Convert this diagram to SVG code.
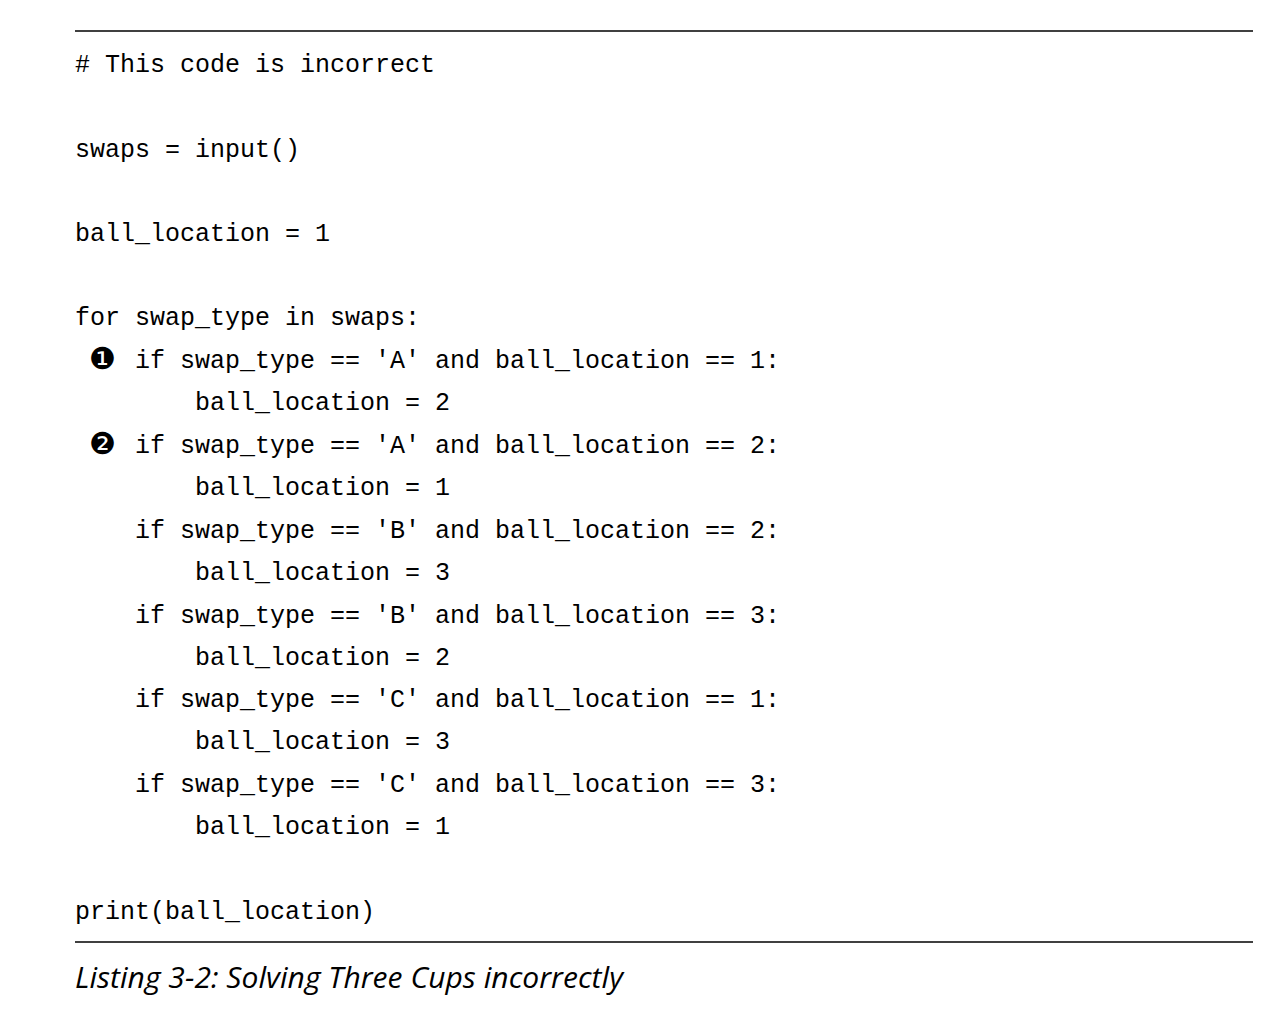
<svg xmlns="http://www.w3.org/2000/svg" width="1288" height="1020" viewBox="0 0 1288 1020">
<style>
.c{font-family:"Liberation Mono","DejaVu Sans Mono",monospace;font-size:25px;fill:#000}
.b{font-family:"DejaVu Sans",sans-serif;font-size:30px;fill:#000}
.cap{font-family:"Open Sans","Liberation Sans",sans-serif;font-style:italic;font-size:30px;fill:#000}
</style>
<rect width="1288" height="1020" fill="#fff"/>
<line x1="75" y1="31" x2="1253" y2="31" stroke="#000" stroke-width="1.5"/>
<line x1="75" y1="942" x2="1253" y2="942" stroke="#000" stroke-width="1.5"/>
<g id="code">
<text class="c" x="75" y="72"># This code is incorrect</text>
<text class="c" x="75" y="157">swaps = input()</text>
<text class="c" x="75" y="241">ball_location = 1</text>
<text class="c" x="75" y="325">for swap_type in swaps:</text>
<text class="b" x="89" y="369">❶</text>
<text class="c" x="135" y="368">if swap_type == 'A' and ball_location == 1:</text>
<text class="c" x="195" y="410">ball_location = 2</text>
<text class="b" x="89" y="454">❷</text>
<text class="c" x="135" y="453">if swap_type == 'A' and ball_location == 2:</text>
<text class="c" x="195" y="495">ball_location = 1</text>
<text class="c" x="135" y="538">if swap_type == 'B' and ball_location == 2:</text>
<text class="c" x="195" y="580">ball_location = 3</text>
<text class="c" x="135" y="623">if swap_type == 'B' and ball_location == 3:</text>
<text class="c" x="195" y="665">ball_location = 2</text>
<text class="c" x="135" y="707">if swap_type == 'C' and ball_location == 1:</text>
<text class="c" x="195" y="749">ball_location = 3</text>
<text class="c" x="135" y="792">if swap_type == 'C' and ball_location == 3:</text>
<text class="c" x="195" y="834">ball_location = 1</text>
<text class="c" x="75" y="919">print(ball_location)</text>
</g>
<text class="cap" x="75" y="988" textLength="548">Listing 3-2: Solving Three Cups incorrectly</text>
</svg>
